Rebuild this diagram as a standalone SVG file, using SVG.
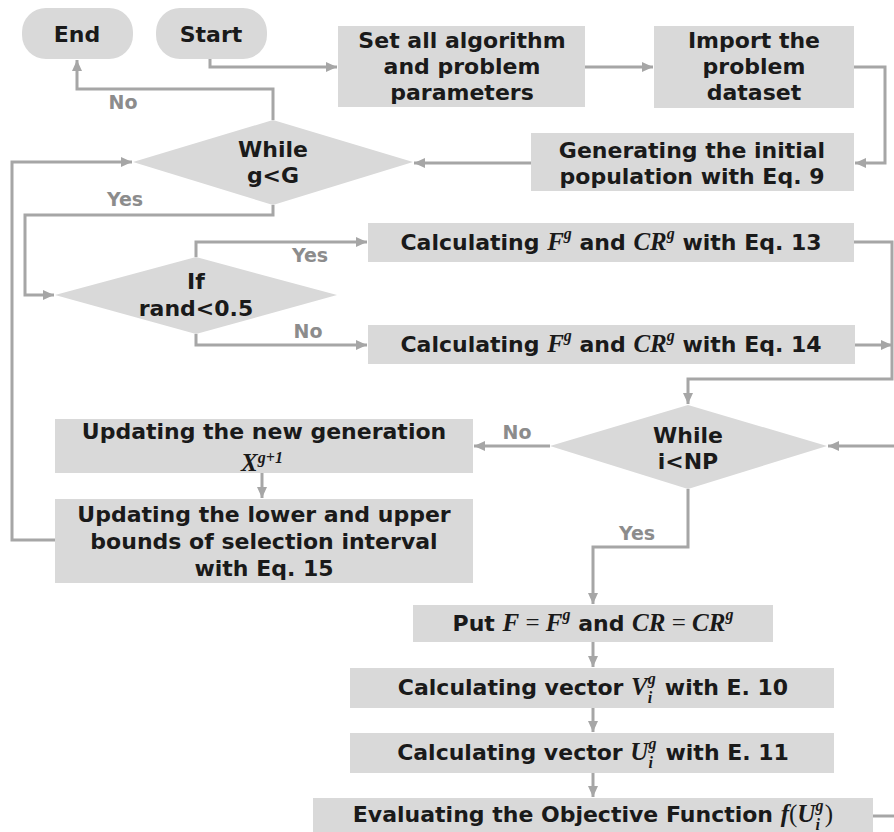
<svg xmlns="http://www.w3.org/2000/svg" width="894" height="832" viewBox="0 0 894 832">
<defs>
<marker id="ah" markerUnits="userSpaceOnUse" markerWidth="11" markerHeight="10" refX="11" refY="5" orient="auto">
<path d="M0,0 L11,5 L0,10 z" fill="#a6a6a6"/>
</marker>
<style>
.box{fill:#d9d9d9}
.t{font-family:"DejaVu Sans","Liberation Sans",sans-serif;font-weight:bold;font-size:22px;fill:#1a1a1a;text-anchor:middle}
.m{font-family:"Liberation Serif","DejaVu Serif",serif;font-style:italic;font-weight:bold;font-size:25px}
.p{font-family:"Liberation Serif","DejaVu Serif",serif;font-style:normal;font-weight:normal;font-size:25px}
.sup{font-family:"Liberation Serif","DejaVu Serif",serif;font-style:italic;font-weight:bold;font-size:16px}
.lbl{font-family:"DejaVu Sans","Liberation Sans",sans-serif;font-weight:bold;font-size:19px;fill:#8c8c8c;text-anchor:middle}
.c{fill:none;stroke:#a6a6a6;stroke-width:3}
.a{marker-end:url(#ah)}
</style>
</defs>
<rect width="894" height="832" fill="#ffffff"/>

<g id="connectors">
<polyline class="c a" points="210,59 210,67 337,67"/>
<polyline class="c a" points="585,67 653,67"/>
<polyline class="c a" points="854,67 885,67 885,163 855,163"/>
<polyline class="c a" points="531,163 414,163"/>
<polyline class="c a" points="273,120 273,89 77,89 77,60"/>
<polyline class="c a" points="273,205 273,215 25,215 25,295 54,295"/>
<polyline class="c a" points="196,257 196,242 367,242"/>
<polyline class="c a" points="196,334 196,345 367,345"/>
<polyline class="c a" points="854,242 892,242 892,379 688,379 688,404"/>
<polyline class="c a" points="855,345 892,345"/>
<polyline class="c a" points="894,446 828,446"/>
<polyline class="c a" points="550,446 474,446"/>
<polyline class="c a" points="688,489 688,547 593,547 593,604"/>
<polyline class="c a" points="593,642 593,667"/>
<polyline class="c a" points="593,708 593,732"/>
<polyline class="c a" points="593,773 593,797"/>
<polyline class="c" points="873,816 894,816"/>
<polyline class="c a" points="262,473 262,498"/>
<polyline class="c a" points="55,540 12,540 12,162 132,162"/>
<text class="lbl" x="123" y="109">No</text>
<text class="lbl" x="125" y="206">Yes</text>
<text class="lbl" x="310" y="262">Yes</text>
<text class="lbl" x="308" y="338">No</text>
<text class="lbl" x="517" y="439">No</text>
<text class="lbl" x="637" y="540">Yes</text>
</g>

<g id="end">
<rect class="box" x="22" y="8" width="111" height="51" rx="24"/>
<text class="t" x="77" y="42">End</text>
</g>
<g id="start">
<rect class="box" x="156" y="8" width="111" height="51" rx="24"/>
<text class="t" x="211" y="42">Start</text>
</g>
<g id="set-params">
<rect class="box" x="338" y="26" width="247" height="81"/>
<text class="t" x="462" y="48">Set all algorithm</text>
<text class="t" x="462" y="74">and problem</text>
<text class="t" x="462" y="100">parameters</text>
</g>
<g id="import">
<rect class="box" x="654" y="26" width="200" height="82"/>
<text class="t" x="754" y="48">Import the</text>
<text class="t" x="754" y="74">problem</text>
<text class="t" x="754" y="100">dataset</text>
</g>
<g id="generate">
<rect class="box" x="531" y="133" width="323" height="58"/>
<text class="t" x="692" y="158">Generating the initial</text>
<text class="t" x="692" y="184">population with Eq. 9</text>
</g>
<g id="while-g">
<polygon class="box" points="133,162 273,120 413,162 273,205"/>
<text class="t" x="273" y="157">While</text>
<text class="t" x="273" y="183">g&lt;G</text>
</g>
<g id="if-rand">
<polygon class="box" points="55,295 196,257 337,295 196,334"/>
<text class="t" x="196" y="289">If</text>
<text class="t" x="196" y="316">rand&lt;0.5</text>
</g>
<g id="calc13">
<rect class="box" x="368" y="223" width="486" height="39"/>
<text class="t" x="611" y="250">Calculating <tspan class="m">F</tspan><tspan class="sup" dy="-11">g</tspan><tspan dy="11"> and </tspan><tspan class="m">CR</tspan><tspan class="sup" dy="-11">g</tspan><tspan dy="11"> with Eq. 13</tspan></text>
</g>
<g id="calc14">
<rect class="box" x="368" y="325" width="487" height="39"/>
<text class="t" x="611" y="352">Calculating <tspan class="m">F</tspan><tspan class="sup" dy="-11">g</tspan><tspan dy="11"> and </tspan><tspan class="m">CR</tspan><tspan class="sup" dy="-11">g</tspan><tspan dy="11"> with Eq. 14</tspan></text>
</g>
<g id="while-i">
<polygon class="box" points="550,446 688,405 827,446 688,489"/>
<text class="t" x="688" y="443">While</text>
<text class="t" x="688" y="469">i&lt;NP</text>
</g>
<g id="update-gen">
<rect class="box" x="55" y="419" width="418" height="54"/>
<text class="t" x="264" y="439">Updating the new generation</text>
<text class="t" x="262" y="471"><tspan class="m">X</tspan><tspan class="sup" dy="-8">g+1</tspan></text>
</g>
<g id="update-bounds">
<rect class="box" x="55" y="499" width="418" height="84"/>
<text class="t" x="264" y="522">Updating the lower and upper</text>
<text class="t" x="264" y="549">bounds of selection interval</text>
<text class="t" x="264" y="576">with Eq. 15</text>
</g>
<g id="put">
<rect class="box" x="413" y="605" width="360" height="37"/>
<text class="t" x="593" y="631">Put <tspan class="m">F</tspan><tspan class="p"> = </tspan><tspan class="m">F</tspan><tspan class="sup" dy="-11">g</tspan><tspan dy="11"> and </tspan><tspan class="m">CR</tspan><tspan class="p"> = </tspan><tspan class="m">CR</tspan><tspan class="sup" dy="-11">g</tspan></text>
</g>
<g id="calc-v">
<rect class="box" x="350" y="668" width="484" height="40"/>
<text class="t" x="593" y="695">Calculating vector <tspan class="m">V</tspan><tspan class="sup" dy="-11">g</tspan><tspan class="sup" dx="-8" dy="19">i</tspan><tspan dx="5" dy="-8"> with E. 10</tspan></text>
</g>
<g id="calc-u">
<rect class="box" x="350" y="733" width="484" height="40"/>
<text class="t" x="593" y="760">Calculating vector <tspan class="m">U</tspan><tspan class="sup" dy="-11">g</tspan><tspan class="sup" dx="-8" dy="19">i</tspan><tspan dx="5" dy="-8"> with E. 11</tspan></text>
</g>
<g id="evaluate">
<rect class="box" x="313" y="798" width="560" height="34"/>
<text class="t" x="593" y="822">Evaluating the Objective Function <tspan class="m">f</tspan><tspan class="p">(</tspan><tspan class="m">U</tspan><tspan class="sup" dy="-11">g</tspan><tspan class="sup" dx="-8" dy="19">i</tspan><tspan class="p" dx="5" dy="-8">)</tspan></text>
</g>
</svg>
